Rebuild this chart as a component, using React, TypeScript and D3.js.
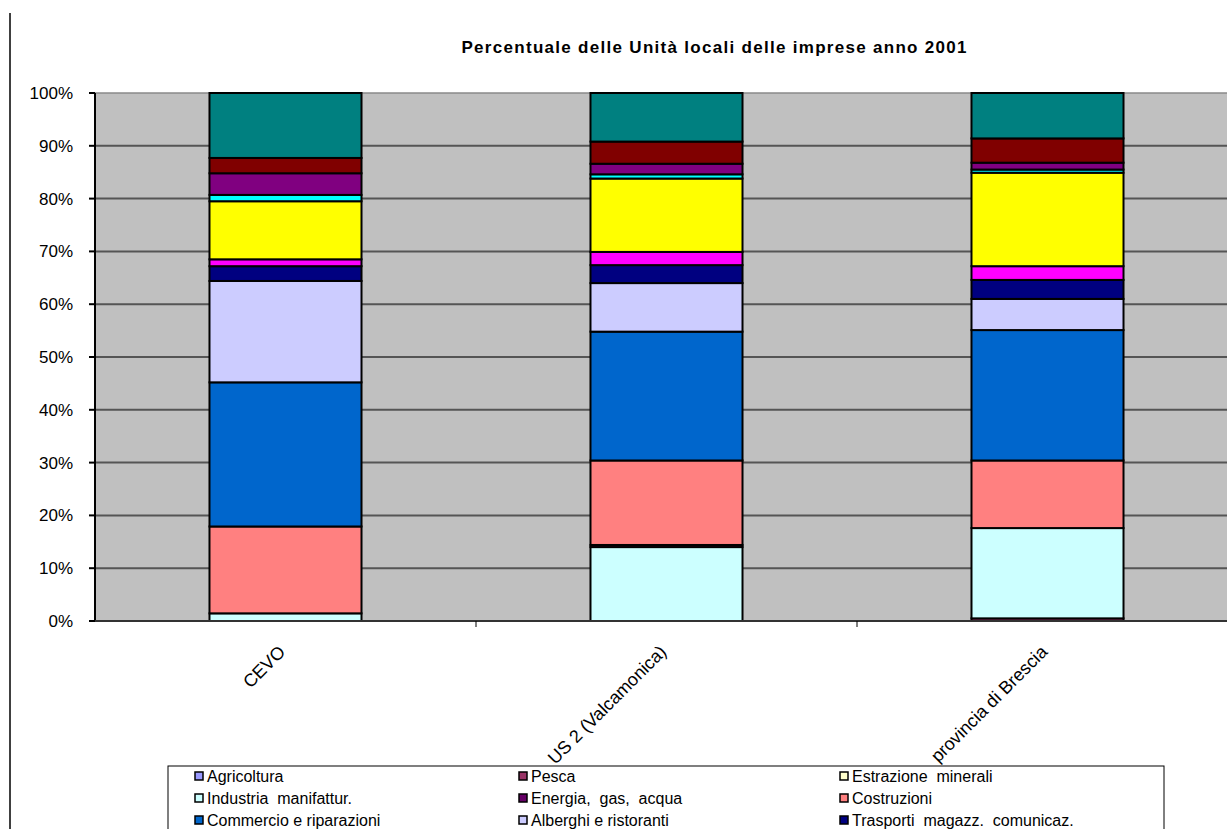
import React from "react";
import * as d3 from "d3";

const categories = ["CEVO", "US 2 (Valcamonica)", "provincia di Brescia"];

const seriesNames = [
  "Agricoltura",
  "Pesca",
  "Estrazione  minerali",
  "Industria  manifattur.",
  "Energia,  gas,  acqua",
  "Costruzioni",
  "Commercio e riparazioni",
  "Alberghi e ristoranti",
  "Trasporti  magazz.  comunicaz.",
  "Intermediazione monetaria",
  "Attività immobiliari",
  "Pubblica amministrazione",
  "Istruzione",
  "Sanità e servizi sociali",
  "Altri servizi",
];

const seriesColors = [
  "#9999FF", "#993366", "#FFFFCC", "#CCFFFF", "#660066", "#FF8080",
  "#0066CC", "#CCCCFF", "#000080", "#FF00FF", "#FFFF00", "#00FFFF",
  "#800080", "#800000", "#008080",
];

// percentages per series, one value per category (CEVO, Valcamonica, Brescia)
const agricoltura = [0, 0, 0];
const pesca = [0, 0, 0.5];
const estrazione = [0, 0, 0];
const industria = [1.45, 14.0, 17.1];
const energia = [0, 0.4, 0];
const costruzioni = [16.45, 16.0, 12.8];
const commercio = [27.3, 24.4, 24.7];
const alberghi = [19.2, 9.2, 5.9];
const trasporti = [2.8, 3.4, 3.6];
const intermediazione = [1.3, 2.5, 2.6];
const immobiliari = [11.0, 13.9, 17.7];
const pubblica = [1.2, 0.8, 0.6];
const istruzione = [4.1, 2.0, 1.3];
const sanita = [2.9, 4.2, 4.6];
const altri = [12.3, 9.2, 8.6];

const seriesValues = [
  agricoltura, pesca, estrazione, industria, energia, costruzioni,
  commercio, alberghi, trasporti, intermediazione, immobiliari,
  pubblica, istruzione, sanita, altri,
];

// only the first three legend rows are visible in the frame
const visibleLegendCount = 9;

const yTicks = [0, 10, 20, 30, 40, 50, 60, 70, 80, 90, 100];

const title = "Percentuale delle Unità locali delle imprese anno 2001";

export default function App() {
  const W = 1227;
  const H = 829;
  const left = 95;
  const plotRight = 1238;
  const top = 93;
  const bottom = 621;

  const x = d3
    .scaleBand<string>()
    .domain(categories)
    .range([left, plotRight])
    .paddingInner(0.601)
    .paddingOuter(0.3005);
  const y = d3.scaleLinear().domain([0, 100]).range([bottom, top]);

  const rows = categories.map((c, ci) => {
    const r: any = { cat: c };
    seriesNames.forEach((s, si) => (r[s] = seriesValues[si][ci]));
    return r;
  });
  const stacked = d3.stack<any>().keys(seriesNames)(rows);

  const step = x.step();
  const catBoundaries = categories
    .slice(1)
    .map((c) => (x(c) as number) - (step - x.bandwidth()) / 2);

  const font = "'Liberation Sans', Arial, sans-serif";

  const legendCols = [195, 519, 840];
  const legendRow0 = 776;
  const legendRowH = 22;

  return (
    <svg
      width={W}
      height={H}
      style={{ position: "fixed", left: 0, top: 0, background: "#fff" }}
      fontFamily={font}
    >
      <rect x={0} y={0} width={W} height={H} fill="#fff" />
      <line x1={10} y1={13} x2={10} y2={H} stroke="#000" strokeWidth={1.5} />

      <text
        x={714}
        y={53}
        textAnchor="middle"
        fontSize={17}
        fontWeight="bold"
        textLength={505}
        lengthAdjust="spacing"
      >
        {title}
      </text>

      {/* plot area */}
      <rect x={left} y={top} width={plotRight - left} height={bottom - top} fill="#C0C0C0" />
      {yTicks.map((t) => (
        <line
          key={"g" + t}
          x1={left}
          x2={W}
          y1={y(t)}
          y2={y(t)}
          stroke={t === 100 ? "#8a8a8a" : "#555"}
          strokeWidth={t === 100 ? 1.5 : 2}
        />
      ))}

      {/* bars */}
      {stacked.map((layer, si) =>
        layer.map((d, ci) => {
          const h = y(d[0]) - y(d[1]);
          if (h <= 0) return null;
          return (
            <rect
              key={si + "-" + ci}
              x={x(categories[ci])}
              y={y(d[1])}
              width={x.bandwidth()}
              height={h}
              fill={seriesColors[si]}
              stroke="#000"
              strokeWidth={2}
            />
          );
        })
      )}

      {/* axes */}
      <line x1={left} x2={left} y1={top} y2={bottom} stroke="#000" strokeWidth={2} />
      <line x1={left} x2={W} y1={bottom} y2={bottom} stroke="#333" strokeWidth={2} />
      {yTicks.map((t) => (
        <g key={"t" + t}>
          <line x1={left - 6} x2={left} y1={y(t)} y2={y(t)} stroke="#000" strokeWidth={2} />
          <text x={73} y={y(t)} dy="0.35em" textAnchor="end" fontSize={17} fill="#000">
            {t + "%"}
          </text>
        </g>
      ))}
      {catBoundaries.map((b, i) => (
        <line key={"cb" + i} x1={b} x2={b} y1={bottom} y2={bottom + 6} stroke="#000" strokeWidth={1} />
      ))}
      {categories.map((c) => {
        const cx = (x(c) as number) + x.bandwidth() / 2;
        return (
          <text
            key={c}
            transform={`translate(${cx + 1},${653}) rotate(-45)`}
            textAnchor="end"
            fontSize={18}
            fill="#000"
          >
            {c}
          </text>
        );
      })}

      {/* legend */}
      <rect x={168} y={766} width={996} height={140} fill="#fff" stroke="#000" strokeWidth={1} />
      {seriesNames.slice(0, visibleLegendCount).map((s, i) => {
        const col = i % 3;
        const row = Math.floor(i / 3);
        const lx = legendCols[col];
        const ly = legendRow0 + row * legendRowH;
        return (
          <g key={"l" + i}>
            <rect x={lx} y={ly - 4} width={8} height={8} fill={seriesColors[i]} stroke="#000" strokeWidth={1.5} />
            <text x={lx + 12} y={ly} dy="0.35em" fontSize={16} fill="#000" style={{ whiteSpace: "pre" }}>
              {s}
            </text>
          </g>
        );
      })}
    </svg>
  );
}
